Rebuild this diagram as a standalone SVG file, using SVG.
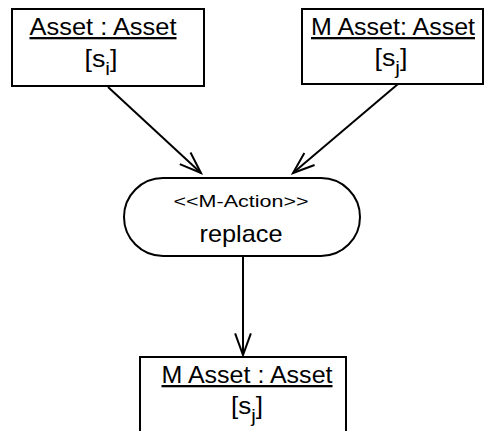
<svg xmlns="http://www.w3.org/2000/svg" width="485" height="431" viewBox="0 0 485 431">
  <defs>
    <style>
      .box { fill: #fff; stroke: #000; stroke-width: 2; }
      .lbl { font-family: "Liberation Sans", Arial, Helvetica, sans-serif; fill: #000; text-anchor: middle; }
      .title { font-size: 23px; text-decoration: underline; }
      .state { font-size: 23px; }
      .sub { font-size: 18px; }
      .stereo { font-size: 17px; }
      .op { font-size: 24px; }
      .edge { fill: none; stroke: #000; stroke-width: 2; }
    </style>
    <marker id="open" viewBox="0 0 26 20" refX="23.6" refY="10" markerWidth="26" markerHeight="20" markerUnits="userSpaceOnUse" orient="auto">
      <path d="M2,2.1 L23.6,10 L2,17.9" fill="none" stroke="#000" stroke-width="2"/>
    </marker>
  </defs>

  <g id="connectors">
    <line class="edge" x1="108" y1="87" x2="201" y2="173" marker-end="url(#open)"/>
    <line class="edge" x1="398" y1="84" x2="293" y2="173" marker-end="url(#open)"/>
    <line class="edge" x1="243" y1="256" x2="243" y2="355" marker-end="url(#open)"/>
  </g>

  <g id="asset">
    <rect class="box" x="12" y="9" width="192" height="77"/>
    <text class="lbl title" x="103" y="35" textLength="147" lengthAdjust="spacingAndGlyphs">Asset : Asset</text>
    <text class="lbl state" x="101" y="67" textLength="33" lengthAdjust="spacingAndGlyphs">[s<tspan class="sub" dy="8">i</tspan><tspan dy="-8">]</tspan></text>
  </g>

  <g id="m-asset-source">
    <rect class="box" x="302" y="9" width="181" height="75"/>
    <text class="lbl title" x="393" y="35" textLength="164" lengthAdjust="spacingAndGlyphs">M Asset: Asset</text>
    <text class="lbl state" x="391" y="66" textLength="33" lengthAdjust="spacingAndGlyphs">[s<tspan class="sub" dy="8">j</tspan><tspan dy="-8">]</tspan></text>
  </g>

  <g id="replace">
    <rect class="box" x="124" y="178" width="236" height="78" rx="39" ry="39"/>
    <text class="lbl stereo" x="241" y="207" textLength="135" lengthAdjust="spacingAndGlyphs">&lt;&lt;M-Action&gt;&gt;</text>
    <text class="lbl op" x="241" y="242" textLength="83" lengthAdjust="spacingAndGlyphs">replace</text>
  </g>

  <g id="m-asset-result">
    <rect class="box" x="140" y="357" width="206" height="90"/>
    <text class="lbl title" x="247" y="383" textLength="171" lengthAdjust="spacingAndGlyphs">M Asset : Asset</text>
    <text class="lbl state" x="247" y="414" textLength="32" lengthAdjust="spacingAndGlyphs">[s<tspan class="sub" dy="8">j</tspan><tspan dy="-8">]</tspan></text>
  </g>
</svg>
